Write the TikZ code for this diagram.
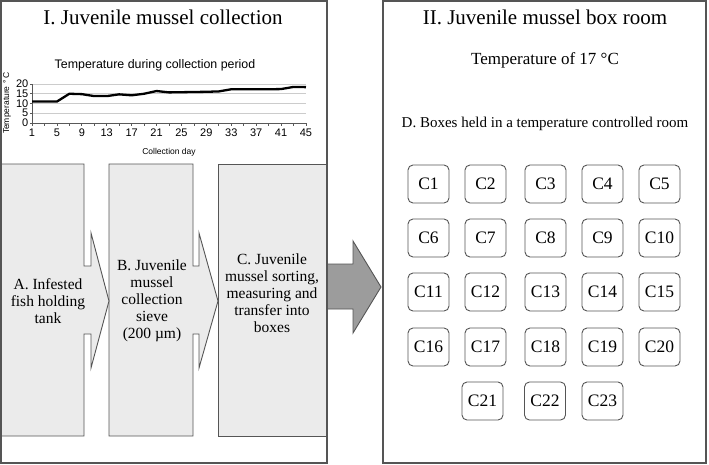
\documentclass[tikz,border=0pt]{standalone}
\usepackage{fontspec}
\setmainfont{Liberation Serif}
\setsansfont{Liberation Sans}
\usetikzlibrary{positioning}
\definecolor{edge}{HTML}{555555}
\definecolor{stagefill}{HTML}{EBEBEB}
\definecolor{flowfill}{HTML}{9C9C9C}
\tikzset{
  panel/.style={draw=edge, line width=1.2pt},
  stage/.style={draw=edge, fill=stagefill, line width=0.9pt},
  stagetext/.style={align=center, font=\fontsize{15.5}{17}\selectfont},
  cbox/.style={draw=edge, rounded corners=5pt, minimum width=41pt, minimum height=38pt,
    inner sep=1pt, line width=0.9pt, font=\fontsize{17.5}{17.5}\selectfont},
  gridline/.style={draw=gray!40, line width=0.6pt},
  axisline/.style={draw=gray!70!black, line width=0.7pt},
  templine/.style={draw=black, line width=2.3pt, line join=round},
  ticklabel/.style={font=\sffamily\fontsize{11}{11}\selectfont, inner sep=1pt},
}
\begin{document}
\begin{tikzpicture}[x=1pt, y=-1pt]
\useasboundingbox (0,0) rectangle (709,464);

\draw[stage] (218,164) rectangle (327,436);
\draw[stage] (109,164) -- (193,164) -- (193,266) -- (199,266) -- (199,233) -- (218,301)
  -- (199,368) -- (199,334) -- (193,334) -- (193,436) -- (109,436) -- cycle;
\draw[stage] (0,164) -- (84,164) -- (84,266) -- (91,266) -- (91,233) -- (109,301)
  -- (91,368) -- (91,334) -- (84,334) -- (84,436) -- (0,436) -- cycle;
\draw[stage, fill=flowfill] (327,264) -- (353,264) -- (353,241) -- (381,287)
  -- (353,333) -- (353,309) -- (327,309) -- cycle;

\draw[panel] (1,1) rectangle (327,463);
\draw[panel] (383,1) rectangle (706,463);

\node[font=\fontsize{21}{21}\selectfont] (titleI) at (163,17) {I. Juvenile mussel collection};
\node[font=\fontsize{21}{21}\selectfont] (titleII) at (545,17) {II. Juvenile mussel box room};
\node[font=\fontsize{17}{17}\selectfont] (roomtemp) at (545,60) {Temperature of 17 °C};
\node[font=\fontsize{15}{15}\selectfont] (boxesD) at (545,124) {D. Boxes held in a temperature controlled room};

\node[font=\sffamily\fontsize{12.4}{12.4}\selectfont] (charttitle) at (155,65) {Temperature during collection period};
\node[font=\sffamily\fontsize{8.5}{8.5}\selectfont] (daylabel) at (169,152) {Collection day};
\node[font=\sffamily\fontsize{8.5}{8.5}\selectfont, rotate=90] (templabel) at (7,103) {Temperature ° C};
\begin{scope}[shift={(32,123)}, x=6.227pt, y=1.95pt]
  \foreach \t in {5,10,15,20}
    \draw[gridline] (0,\t) -- (44,\t);
  \draw[axisline] (0,0) -- (44,0);
  \draw[axisline] (0,0) -- (0,20);
  \foreach \d in {0,2,...,44}
    \draw[axisline] (\d,0) -- (\d,-1.6);
  \foreach \t in {0,5,...,20} {
    \draw[axisline] (0,\t) -- (-0.4,\t);
    \node[ticklabel, anchor=east] (ytick\t) at (-0.4,\t) {\t};
  }
  \foreach \d in {1,5,...,45}
    \node[ticklabel, anchor=north] (xtick\d) at (\d-1,-2.6) {\d};
  \draw[templine] plot coordinates {(0,11) (2,11) (4,11) (6,15) (8,14.8) (10,13.8)
    (12,13.8) (14,14.7) (16,14.2) (18,15) (20,16.4) (22,15.7) (24,15.8) (26,15.9)
    (28,16) (30,16.2) (32,17.3) (34,17.3) (36,17.3) (38,17.3) (40,17.4) (42,18.5) (44,18.4)};
\end{scope}

\node[stagetext] (tankA) at (48,301) {A. Infested\\fish holding\\tank};
\node[stagetext] (sieveB) at (152,301) {B. Juvenile\\mussel\\collection\\sieve\\(200 µm)};
\node[stagetext] (sortC) at (272,293) {C. Juvenile\\mussel sorting,\\measuring and\\transfer into\\boxes};

\foreach \x [count=\c] in {428.5,485.5,545.5,602.5,659.5}
  \foreach \y [count=\r] in {184,238,292,347} {
    \pgfmathtruncatemacro\n{(\r-1)*5+\c}
    \node[cbox] (c\n) at (\x,\y) {C\n};
  }
\foreach \x/\n in {482.5/21,545/22,602.5/23}
  \node[cbox] (c\n) at (\x,401) {C\n};
\end{tikzpicture}
\end{document}
